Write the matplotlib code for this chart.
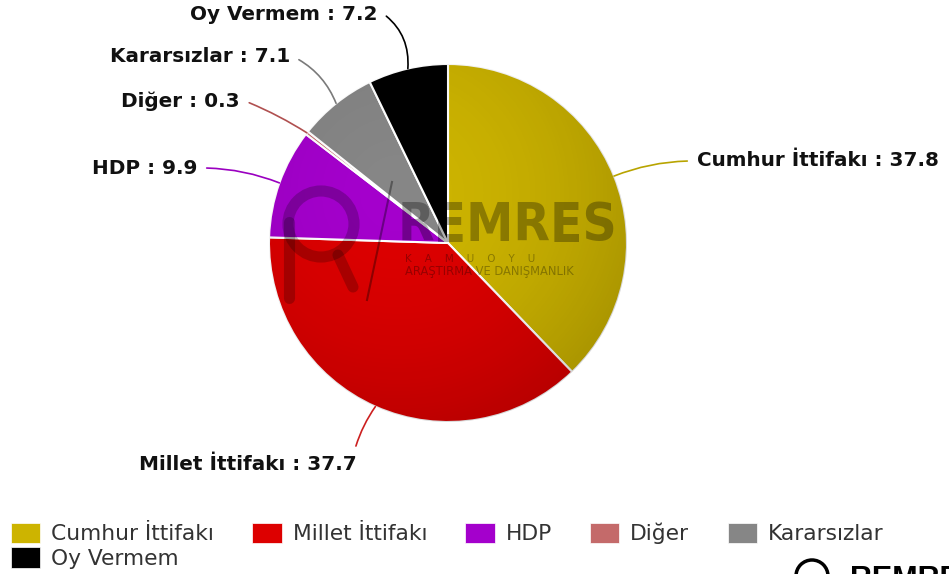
import matplotlib

matplotlib.use('Agg')
import matplotlib.pyplot as plt
import numpy as np
from matplotlib.patches import Circle

# Данные опроса
parties = ['Cumhur İttifakı', 'Millet İttifakı', 'HDP', 'Diğer', 'Kararsızlar', 'Oy Vermem']
values = [37.8, 37.7, 9.9, 0.3, 7.1, 7.2]
colors = ['#cdb400', '#dd0000', '#a400cc', '#c46a6a', '#868686', '#000000']
line_colors = ['#b8a400', '#cc2020', '#9a00c0', '#b05050', '#7a7a7a', '#000000']

# Позиции подписей (пиксели, от верхнего левого угла)
label_pos = [(697, 161), (357, 465), (197, 168), (240, 101), (290, 57), (378, 14)]
label_ha = ['left', 'right', 'right', 'right', 'right', 'right']
label_rel = [(0, 0.5), (0.98, 0.85), (1, 0.5), (1, 0.6), (1, 0.6), (1, 0.7)]
label_rad = [0.1, -0.1, -0.1, -0.05, -0.2, -0.3]

W, H = 949, 574
fig = plt.figure(figsize=(W / 100, H / 100), dpi=100)
ax = fig.add_axes([0, 0, 1, 1])

cx, cy, r = 448, H - 243, 179

wedges, _ = ax.pie(values, colors=colors, startangle=90, counterclock=False,
                   center=(cx, cy), radius=r, frame=True,
                   wedgeprops=dict(edgecolor='white', linewidth=1.5))
ax.set_xlim(0, W)
ax.set_ylim(0, H)
ax.set_aspect('equal')
ax.axis('off')

# Лёгкое затенение к краю круга
gx, gy = np.meshgrid(np.linspace(cx - r, cx + r, 300), np.linspace(cy - r, cy + r, 300))
dist = np.hypot(gx - (cx - 50), gy - (cy + 50)) / (1.6 * r)
shade = np.zeros(gx.shape + (4,))
shade[..., 3] = np.clip(dist, 0, 1) ** 2 * 0.22
im = ax.imshow(shade, extent=(cx - r, cx + r, cy - r, cy + r), origin='lower', zorder=1.5)
im.set_clip_path(Circle((cx, cy), r, transform=ax.transData))
for w in wedges:
    w.set_zorder(1)

# Подписи с выносками
for i, w in enumerate(wedges):
    ang = np.deg2rad((w.theta1 + w.theta2) / 2)
    px = cx + r * np.cos(ang)
    py = cy + r * np.sin(ang)
    tx, ty = label_pos[i]
    ax.annotate(f'{parties[i]} : {values[i]}', xy=(px, py), xytext=(tx, H - ty),
                ha=label_ha[i], va='center', fontsize=14.4, fontweight='bold',
                family='DejaVu Sans', color='#111111',
                arrowprops=dict(arrowstyle='-', color=line_colors[i], lw=1.2,
                                shrinkA=5, shrinkB=0, relpos=label_rel[i],
                                connectionstyle=f'arc3,rad={label_rad[i]}'))

# Водяной знак
wm = dict(color='black', alpha=0.3, family='DejaVu Sans')
ax.text(398, H - 226, 'REMRES', fontsize=38, fontweight='bold', fontstretch='condensed',
        ha='left', va='center', **wm)
ax.text(405, H - 259, 'K    A    M    U    O    Y    U', fontsize=7.5, ha='left', va='center', **wm)
ax.text(405, H - 272, 'ARAŞTIRMA VE DANIŞMANLIK', fontsize=8.3, ha='left', va='center', **wm)
ax.add_patch(Circle((321, H - 224), 33, fill=False, lw=8, color='black', alpha=0.22))
ax.plot([289, 289], [H - 222, H - 298], lw=8, color='black', alpha=0.22, solid_capstyle='round')
ax.plot([338, 353], [H - 255, H - 287], lw=8, color='black', alpha=0.22, solid_capstyle='round')
ax.plot([392, 367], [H - 182, H - 300], lw=1.5, color='black', alpha=0.35)

# Логотип внизу справа (обрезан)
ax.add_patch(Circle((812, -2), 16, fill=False, lw=2.5, color='black'))
ax.text(850, -6, 'REMRES', fontsize=22, fontweight='bold', ha='left', va='center',
        family='Liberation Sans', color='black')

# Легенда
order = [0, 5, 1, 2, 3, 4]
handles = [wedges[i] for i in order]
labels = [parties[i] for i in order]
leg = fig.legend(handles, labels, loc='lower left', bbox_to_anchor=(0.0, -0.01),
                 ncol=5, frameon=False, fontsize=15.7, handlelength=1.35, handleheight=1.05,
                 handletextpad=0.5, columnspacing=1.75, labelspacing=0.14,
                 borderaxespad=0.3, borderpad=0.2, labelcolor='#333333')
for h in leg.legend_handles:
    h.set_edgecolor('white')
    h.set_linewidth(0.5)

fig.savefig('out.png', dpi=100)
